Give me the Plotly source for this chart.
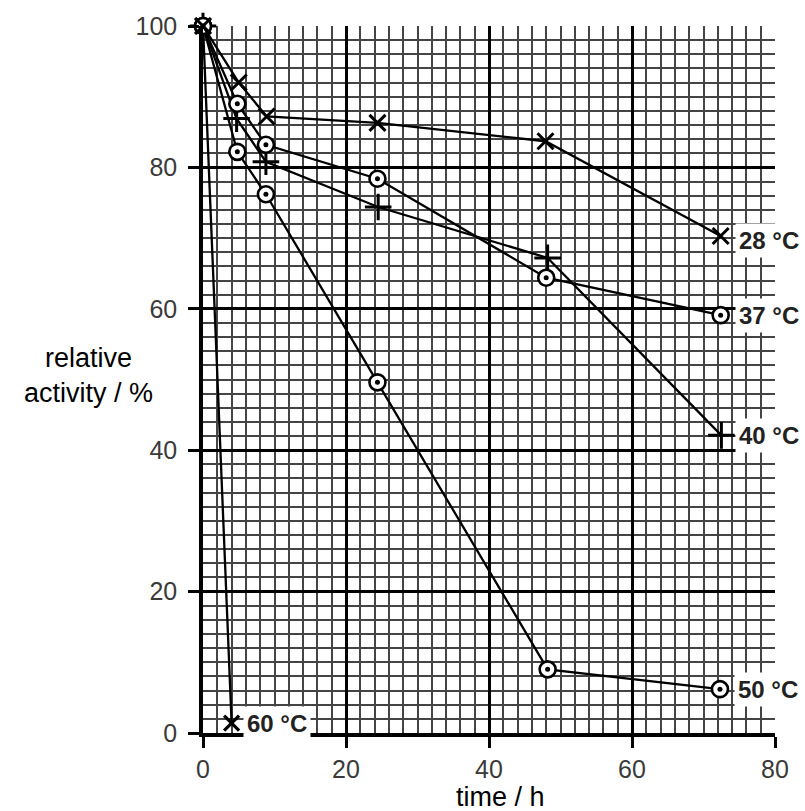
import plotly.graph_objects as go

# data
t_28 = [0, 5.0, 8.9, 24.4, 47.9, 72.4]
a_28 = [100, 92.0, 87.2, 86.3, 83.7, 70.3]

t_37 = [0, 4.8, 8.8, 24.4, 48.0, 72.4]
a_37 = [100, 89.0, 83.2, 78.4, 64.4, 59.1]

t_40 = [0, 4.7, 8.8, 24.5, 48.2, 72.5]
a_40 = [100, 86.9, 80.8, 74.4, 67.2, 42.1]

t_50 = [0, 4.8, 8.8, 24.4, 48.2, 72.3]
a_50 = [100, 82.2, 76.2, 49.6, 9.0, 6.2]

t_60 = [0, 4.0]
a_60 = [100, 1.4]

labels = ["28 °C", "37 °C", "40 °C", "50 °C", "60 °C"]

x_ticks = [0, 20, 40, 60, 80]
y_ticks = [0, 20, 40, 60, 80, 100]

FONT = "Liberation Sans, Arial, sans-serif"

fig = go.Figure()

line = dict(color="black", width=2.3)


def add_cross(t, a, symbol, size, lw):
    fig.add_trace(go.Scatter(
        x=t, y=a, mode="lines+markers", line=line, cliponaxis=False,
        marker=dict(symbol=symbol, size=size, color="black",
                    line=dict(color="black", width=lw)),
        showlegend=False, hoverinfo="skip"))


def add_ring(t, a):
    fig.add_trace(go.Scatter(
        x=t, y=a, mode="lines+markers", line=line, cliponaxis=False,
        marker=dict(symbol="circle", size=16, color="white",
                    line=dict(color="black", width=2.6)),
        showlegend=False, hoverinfo="skip"))
    fig.add_trace(go.Scatter(
        x=t, y=a, mode="markers", cliponaxis=False,
        marker=dict(symbol="circle", size=5, color="black"),
        showlegend=False, hoverinfo="skip"))


add_cross(t_60, a_60, "x-thin", 15, 3.2)
add_ring(t_50, a_50)
add_cross(t_40, a_40, "cross-thin", 19, 3.0)
add_ring(t_37, a_37)
add_cross(t_28, a_28, "x-thin", 16, 3.0)

# end labels
ends = [
    (t_28[-1], a_28[-1], labels[0], 14, -5),
    (t_37[-1], a_37[-1], labels[1], 14, 0),
    (t_40[-1], a_40[-1], labels[2], 14, 0),
    (t_50[-1], a_50[-1], labels[3], 14, 0),
    (t_60[-1], a_60[-1], labels[4], 11, 0),
]
for x, y, txt, xs, ys in ends:
    fig.add_annotation(x=x, y=y, text="<b>" + txt + "</b>", showarrow=False,
                       xanchor="left", yanchor="middle", xshift=xs, yshift=ys,
                       bgcolor="white", borderpad=3,
                       font=dict(family=FONT, size=24, color="#222222"))

# axis titles
fig.add_annotation(xref="paper", yref="paper", x=(88 - 203) / 572, y=(733 - 372) / 713,
                   text="relative<br>activity / %", showarrow=False,
                   xanchor="center", yanchor="middle", align="center",
                   font=dict(family=FONT, size=27, color="black"))
fig.add_annotation(xref="paper", yref="paper", x=(500 - 203) / 572, y=(733 - 798) / 713,
                   text="time / h", showarrow=False,
                   xanchor="center", yanchor="middle",
                   font=dict(family=FONT, size=27, color="black"))

axis_common = dict(
    showline=True, linecolor="black", linewidth=3.5,
    showgrid=True, gridcolor="black", gridwidth=2.6,
    ticks="outside", ticklen=11, tickwidth=3, tickcolor="black",
    tickfont=dict(family=FONT, size=25, color="#3a3a3a"),
    zeroline=False,
    minor=dict(dtick=2, showgrid=True, gridcolor="#444444", gridwidth=1.5, ticks=""),
)

fig.update_xaxes(range=[0, 80], tickmode="array", tickvals=x_ticks, **axis_common)
fig.update_yaxes(range=[0, 100], tickmode="array", tickvals=y_ticks,
                 ticklabelstandoff=6, **axis_common)

fig.update_layout(
    width=805, height=811,
    margin=dict(l=203, r=30, t=20, b=78),
    paper_bgcolor="white", plot_bgcolor="white",
    font=dict(family=FONT),
)

fig.write_html("out.html")
